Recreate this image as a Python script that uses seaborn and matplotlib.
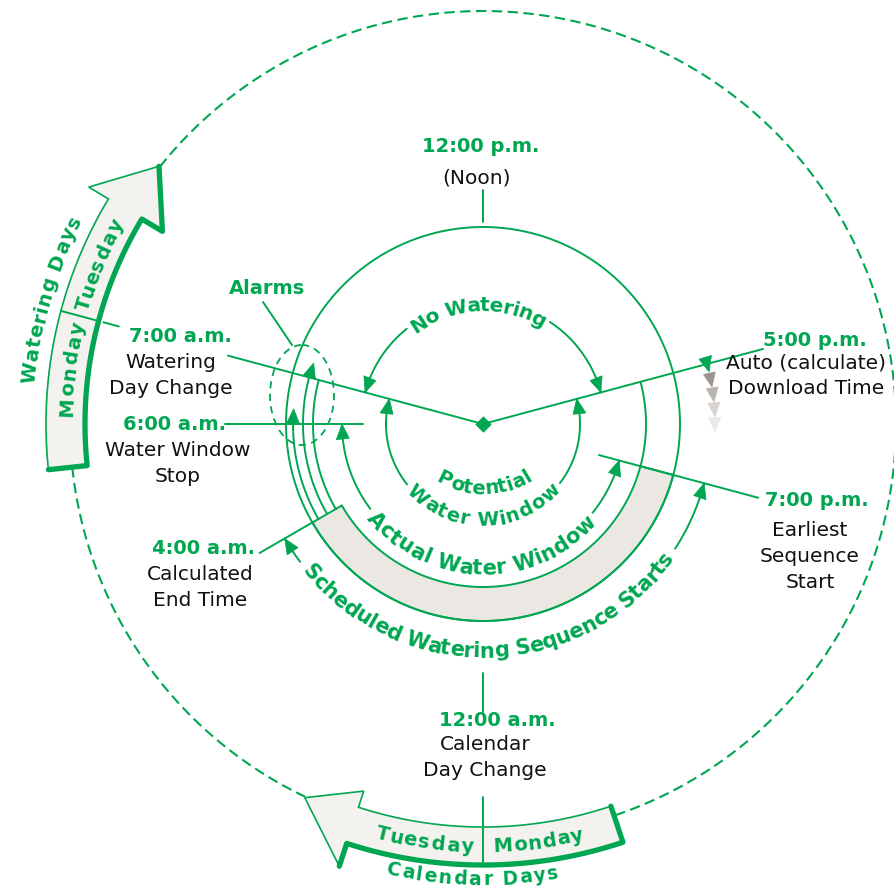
import numpy as np
import matplotlib
matplotlib.use('Agg')
import matplotlib.pyplot as plt
from matplotlib.patches import Polygon, Ellipse
from matplotlib.font_manager import FontProperties
from matplotlib.textpath import TextToPath
import seaborn as sns

# 时刻（24小时制，中午在上方，顺时针）
time_hours = [12, 17, 19, 24, 4, 6, 7]
time_labels = ['12:00 p.m.', '5:00 p.m.', '7:00 p.m.', '12:00 a.m.', '4:00 a.m.', '6:00 a.m.', '7:00 a.m.']
time_notes = ['(Noon)', 'Auto (calculate)\nDownload Time', 'Earliest\nSequence\nStart',
              'Calendar\nDay Change', 'Calculated\nEnd Time', 'Water Window\nStop', 'Watering\nDay Change']

# 各时间窗（开始、结束时刻）
window_names = ['No Watering', 'Potential Water Window', 'Actual Water Window',
                'Scheduled Watering Sequence Starts']
window_start = [7, 17, 19, 19]
window_end = [17, 7, 6, 4]

# 计算的运行区间
run_start, run_end = 19, 4

# 日期箭头
watering_days = ['Monday', 'Tuesday']
watering_change = 7
calendar_days = ['Monday', 'Tuesday']
calendar_change = 24

# 报警
alarm_hours = [6, 7]

sns.set_theme(style='white')
plt.rcParams['font.family'] = ['DejaVu Sans']

GREEN = '#00a651'
FILL = '#f4f2ef'
BAND = '#ebe7e3'
CX, CY = 483, 424
LW = 1.4

fig = plt.figure(figsize=(8.95, 8.94), dpi=100)
ax = fig.add_axes([0, 0, 1, 1])


def ang(h):
    return 90 - (h - 12) * 15


def pt(r, a, cx=CX, cy=CY):
    t = np.radians(a)
    return cx + r * np.cos(t), cy - r * np.sin(t)


def line(xs, ys, lw=LW, ls='-', color=GREEN, z=3):
    sns.lineplot(x=np.asarray(xs, float), y=np.asarray(ys, float), sort=False, estimator=None,
                 ax=ax, color=color, lw=lw, linestyle=ls, legend=False, zorder=z)


def arc(r, a0, a1, **kw):
    n = int(abs(a1 - a0)) * 2 + 2
    a = np.linspace(a0, a1, n)
    x, y = pt(r, a)
    line(x, y, **kw)


def ray(a, r0, r1, **kw):
    x0, y0 = pt(r0, a)
    x1, y1 = pt(r1, a)
    line([x0, x1], [y0, y1], **kw)


def head(r, a_tip, sign, L=15, W=13, color=GREEN):
    a_base = a_tip - sign * np.degrees(L / r)
    P = [pt(r, a_tip), pt(r - W / 2, a_base), pt(r + W / 2, a_base)]
    ax.add_patch(Polygon(P, closed=True, fc=color, ec=color, lw=0.5, zorder=4))


t2p = TextToPath()


def curved_text(s, r, a_mid, span, fs, outward=True, color=GREEN, weight='bold', cx=CX, cy=CY):
    prop = FontProperties(family='DejaVu Sans', weight=weight, size=fs)

    def w(t):
        return t2p.get_text_width_height_descent(t + '|', prop, ismath=False)[0]

    cum = [w(s[:i]) for i in range(len(s) + 1)]
    cum = [c - cum[0] for c in cum]
    total = cum[-1]
    cap = 0.73 * fs * 100 / 72
    rb = r - cap / 2 if outward else r + cap / 2
    sgn = -1 if outward else 1
    a0 = a_mid - sgn * span / 2
    for i, ch in enumerate(s):
        if ch == ' ':
            continue
        frac = (cum[i] + cum[i + 1]) / 2 / total
        a = a0 + sgn * span * frac
        x, y = pt(rb, a, cx, cy)
        rot = a - 90 if outward else a + 90
        ax.text(x, y, ch, rotation=rot, rotation_mode='anchor', ha='center', va='baseline',
                fontsize=fs, fontweight=weight, color=color, zorder=5)
    return sorted([a0, a0 + sgn * span])


# 外圈虚线
arc(413, 141.5, -71.5, ls=(0, (5, 2.6)), lw=1.5)
arc(413, 186, 244.5, ls=(0, (5, 2.6)), lw=1.5)

# 中圈
arc(197, 0, 360)

# 计算运行区间（阴影带）
a_rs, a_re = ang(run_start), ang(run_end + 24)
aa = np.linspace(a_rs, a_re, 120)
band = [pt(197, a) for a in aa] + [pt(163, a) for a in aa[::-1]]
ax.add_patch(Polygon(band, closed=True, fc=BAND, ec=GREEN, lw=LW, zorder=1))
arc(163, a_rs, ang(17))

# 报警弧线
a6 = ang(alarm_hours[0]) - 360
a7 = ang(alarm_hours[1]) - 360
arc(190, a_re, a6)
head(190, a6 - 4.6, -1, L=15)
arc(180, a_re, a7)
head(180, a7 - 4.8, -1, L=15)
arc(170, a_re, a7)
ax.add_patch(Ellipse((302, 395), 64, 100, fill=False, ec=GREEN, lw=1.3, ls=(0, (4, 3)), zorder=3))
line([263, 292], [302, 345])
ax.text(267, 289, 'Alarms', ha='center', va='center', fontsize=14, fontweight='bold', color=GREEN)

# 时间窗弧线及文字
win_r = [122, 97, 141, 229]
txt_r = [120, 95, 143, 226]
txt_mid = [92.7, 270.5, 269, 272]
txt_span = [68, 100, 100, 106]
txt_fs = [14.5, 14, 15, 15]
for name, hs, he, r, tr, tm, sp, fs in zip(window_names, window_start, window_end, win_r,
                                           txt_r, txt_mid, txt_span, txt_fs):
    a_s = ang(hs)
    he2 = he + 24 if he < hs else he
    a_e = ang(he2)
    outward = 0 < tm < 180
    while tm > a_s:
        tm -= 360
    while tm < a_e:
        tm += 360
    label = name
    if name.startswith('Potential'):
        curved_text('Potential', 85, 271, 64, fs, outward=False, cy=402)
        label = name.replace('Potential ', '')
    lo, hi = curved_text(label, tr, tm, sp, fs, outward=outward)
    arc(r, hi + 2, a_s)
    head(r, a_s, 1)
    arc(r, lo - 2, a_e)
    head(r, a_e, -1)

# 5:00 p.m. 下载标记
a5 = ang(17)
head(232, a5 - 2.0, -1, L=15, W=13)
for k, c in enumerate(['#9b948f', '#bab4af', '#d8d3cf', '#ebe8e5']):
    head(232, a5 - 5.8 - 3.7 * k, -1, L=14, W=12, color=c)

# 时刻射线
ray_pieces = {12: [(202, 234)], 17: [(0, 290)], 19: [(120, 285)], 24: [(249, 288), (373, 441)],
              4: [(197, 258)], 6: [(120, 258)], 7: [(0, 264), (377, 393), (398, 437)]}
for h in time_hours:
    for r0, r1 in ray_pieces[h]:
        ray(ang(h), r0, r1)
sns.scatterplot(x=[CX], y=[CY], marker='D', s=60, color=GREEN, ec=GREEN, ax=ax, zorder=6, legend=False)


# 日期箭头
def day_arrow(a_tail, a_head, a_tip, r_in, r_out, rb_in, rb_out, r_tip, thick_outer):
    ao = np.linspace(a_tail, a_head, 80)
    outer = [pt(r_out, a) for a in ao]
    inner = [pt(r_in, a) for a in ao[::-1]]
    tip = [pt(rb_out, a_head), pt(r_tip, a_tip), pt(rb_in, a_head)]
    ax.add_patch(Polygon(outer + tip + inner, closed=True, fc=FILL, ec=GREEN, lw=1.2, zorder=2))
    if thick_outer:
        P = [pt(r_in, a_tail)] + outer + [pt(rb_out, a_head)]
    else:
        P = [pt(r_out, a_tail)] + inner[::-1] + [pt(rb_in, a_head), pt(r_tip, a_tip)]
    xs, ys = zip(*P)
    line(xs, ys, lw=3.8)


day_arrow(186, 149, 141.5, 398, 437, 374, 460, 414, False)
day_arrow(-71.5, -108, -115.5, 403, 441, 386, 465, 414, True)

curved_text(watering_days[0], 418, 172.5, 13.5, 14, outward=True)
curved_text(watering_days[1], 418, 157.5, 13.5, 14, outward=True)
curved_text('Watering Days', 457, 164, 22, 14, outward=True)

curved_text(calendar_days[1], 421, -98, 13.5, 14, outward=False)
curved_text(calendar_days[0], 421, -82.5, 12.5, 14, outward=False)
curved_text('Calendar Days', 454, -91.4, 22, 13.5, outward=False)

# 时刻文字
label_xy = [(481, 147), (815, 340), (817, 501), (497, 720), (204, 549), (175, 424), (180, 336)]
note_xy = [(477, 178), (806, 376), (810, 556), (485, 758), (200, 587), (178, 463), (171, 375)]
for lab, note, (lx, ly), (nx, ny) in zip(time_labels, time_notes, label_xy, note_xy):
    ax.text(lx, ly, lab, ha='center', va='center', fontsize=14, fontweight='bold', color=GREEN, zorder=6)
    rows = note.split('\n')
    for i, row in enumerate(rows):
        y = ny + (i - (len(rows) - 1) / 2) * 26
        ax.text(nx, y, row, ha='center', va='center', fontsize=14.5, color='#111111', zorder=6)

ax.set_xlim(0, 895)
ax.set_ylim(894, 0)
ax.axis('off')
fig.savefig('out.png', dpi=100, facecolor='white')
